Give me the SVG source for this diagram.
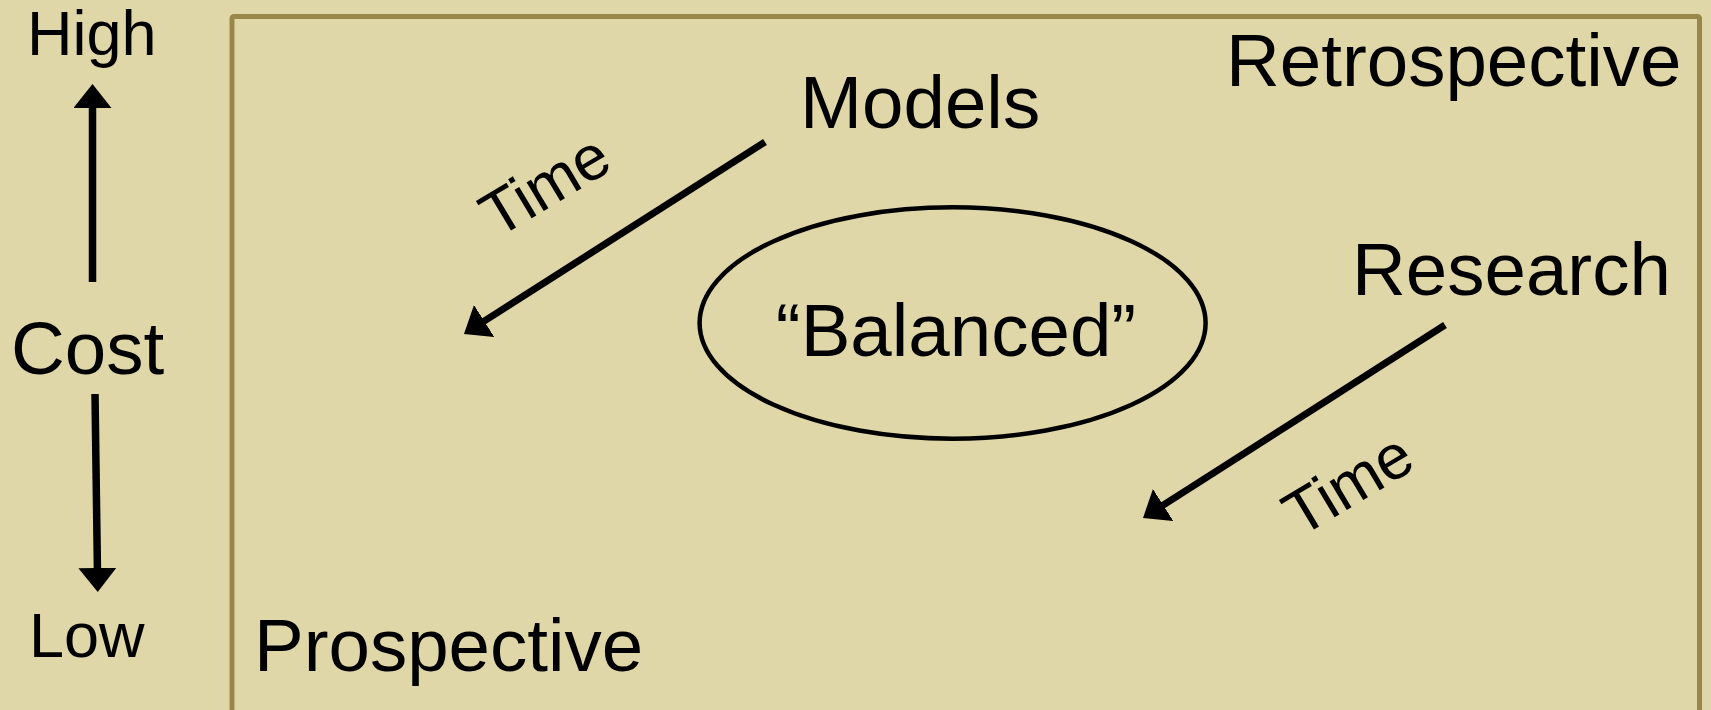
<svg xmlns="http://www.w3.org/2000/svg" width="1711" height="710" viewBox="0 0 1711 710">
  <style>
    .t { font-family: "Liberation Sans", Arial, sans-serif; fill: #000; }
    .big { font-size: 74.5px; }
    .small { font-size: 63px; }
    .arr { stroke: #000; fill: none; marker-end: url(#head); }
  </style>
  <defs>
    <marker id="head" viewBox="0 0 24 38" refX="14" refY="19" markerWidth="24" markerHeight="38" markerUnits="userSpaceOnUse" orient="auto">
      <path d="M0,0 L24,19 L0,38 z" fill="#000"/>
    </marker>
  </defs>
  <rect x="0" y="0" width="1711" height="710" fill="#e0d7a8"/>
  <rect id="frame" x="232" y="16.5" width="1467.5" height="720" rx="2" fill="none" stroke="#998749" stroke-width="5"/>

  <g id="cost-axis">
    <text class="t small" x="27" y="55">High</text>
    <text class="t big" x="11" y="374">Cost</text>
    <text class="t small" x="29" y="657">Low</text>
  </g>
  <g id="retrospective"><text class="t big" x="1226" y="86">Retrospective</text></g>
  <g id="prospective"><text class="t big" x="254" y="671">Prospective</text></g>
  <g id="models"><text class="t big" x="800" y="128">Models</text></g>
  <g id="research"><text class="t big" x="1352" y="295">Research</text></g>
  <g id="balanced">
    <ellipse cx="952.6" cy="323" rx="253" ry="115.7" fill="none" stroke="#000" stroke-width="4.5"/>
    <text class="t" style="font-size:74.5px" x="956" y="356" text-anchor="middle">“Balanced”</text>
  </g>

  <g id="connectors">
    <line class="arr" x1="92.5" y1="282" x2="92.5" y2="94" stroke-width="7.5"/>
    <line class="arr" x1="95" y1="394" x2="97.6" y2="582" stroke-width="7.5"/>
    <line class="arr" x1="765" y1="142" x2="472.4" y2="328.6" stroke-width="7"/>
    <line class="arr" x1="1445" y1="325" x2="1151.4" y2="512.6" stroke-width="7"/>
    <text class="t small" transform="translate(497,239) rotate(-31)">Time</text>
    <text class="t small" transform="translate(1300,538) rotate(-31)">Time</text>
  </g>
</svg>
